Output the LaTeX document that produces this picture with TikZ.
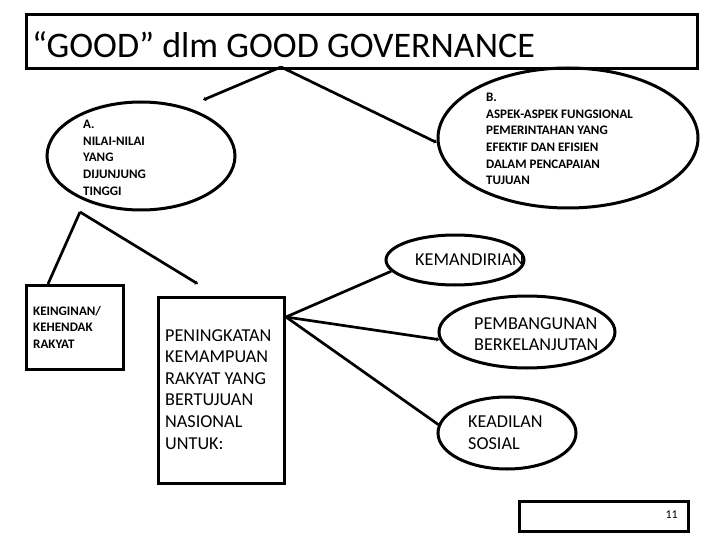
\documentclass[tikz,border=0pt]{standalone}
\usepackage{fontspec}
\setmainfont{Carlito}
\usetikzlibrary{shapes.geometric,arrows.meta}

\begin{document}
\begin{tikzpicture}[x=1pt,y=-1pt,
          oval/.style={draw, ellipse, line width=3pt, inner sep=0pt},
          box/.style={draw, line width=3pt, inner sep=0pt, anchor=north west},
          txt/.style={align=left, inner sep=0pt, anchor=north west},
          small/.style={font=\fontsize{13}{16.6}\selectfont\bfseries},
          big/.style={font=\fontsize{18.2}{21.6}\selectfont},
          link/.style={line width=2.7pt},
          arrow/.style={link, -{Stealth[length=3pt,width=4.5pt]}}
        ]
          \useasboundingbox (0,0) rectangle (720,540);
          \node[box,minimum width=671pt,minimum height=54pt] (title) at (25,13) {};
          \node[anchor=base west,inner sep=0pt,font=\fontsize{36}{40}\selectfont] (titleText) at (32,58) {“GOOD” dlm GOOD GOVERNANCE};
          % ellipses
          \node[oval,minimum width=188pt,minimum height=108pt] (nilai) at (141,156) {};
          \node[oval,minimum width=260pt,minimum height=140pt] (aspek) at (568,138) {};
          \node[oval,minimum width=138pt,minimum height=50pt] (kemandirian) at (455,260) {};
          \node[oval,minimum width=176pt,minimum height=72pt] (pembangunan) at (527,332) {};
          \node[oval,minimum width=138pt,minimum height=72pt] (keadilan) at (507,433) {};
          % boxes
          \node[box,minimum width=97pt,minimum height=84pt] (keinginan) at (25,284) {};
          \node[box,minimum width=126pt,minimum height=186pt] (peningkatan) at (157,296) {};
          \node[box,minimum width=169pt,minimum height=30pt] (page) at (518,500) {};
          % texts
          \node[txt,small] (nilaiText) at (83,120) {A.\\NILAI-NILAI\\YANG\\DIJUNJUNG\\TINGGI};
          \node[txt,small] (aspekText) at (486,93) {B.\\ASPEK-ASPEK FUNGSIONAL\\PEMERINTAHAN YANG\\EFEKTIF DAN EFISIEN\\DALAM PENCAPAIAN\\TUJUAN};
          \node[txt,small] (keinginanText) at (33,306) {KEINGINAN/\\KEHENDAK\\RAKYAT};
          \node[txt,big] (peningkatanText) at (165,329) {PENINGKATAN\\KEMAMPUAN\\RAKYAT YANG\\BERTUJUAN\\NASIONAL\\UNTUK:};
          \node[anchor=west,inner sep=0pt,big] (kemandirianText) at (415,260) {KEMANDIRIAN};
          \node[txt,big] (pembangunanText) at (474,317) {PEMBANGUNAN\\BERKELANJUTAN};
          \node[txt,big] (keadilanText) at (468,416) {KEADILAN\\SOSIAL};
          \node[anchor=east,inner sep=0pt,font=\fontsize{12}{14}\selectfont] (pageText) at (678,515) {11};
          % connectors
          \coordinate (titleFoot) at (281,67);
          \coordinate (nilaiTip) at (203,100);
          \coordinate (split) at (80,212);
          \coordinate (peningkatanTip) at (198,284);
          \coordinate (hub) at ([yshift=-21pt]peningkatan.north east);
          \draw[arrow] (titleFoot) -- (nilaiTip);
          \draw[arrow] (titleFoot) -- (aspek.182);
          \draw[link] (split) -- ([xshift=23pt]keinginan.north west);
          \draw[arrow] (split) -- (peningkatanTip);
          \draw[link] (hub) -- (kemandirian.190);
          \draw[arrow] (hub) -- (pembangunan.185);
          \draw[link] (hub) -- (keadilan.173);
        \end{tikzpicture}
\end{document}
